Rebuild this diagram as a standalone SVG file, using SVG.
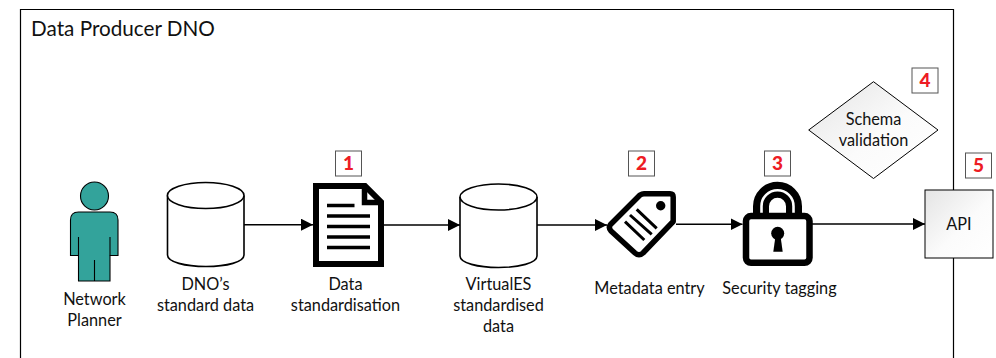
<svg xmlns="http://www.w3.org/2000/svg" width="996" height="358" viewBox="0 0 996 358">
<defs>
<marker id="arrow" markerUnits="userSpaceOnUse" markerWidth="13" markerHeight="12" refX="12" refY="6" orient="auto"><path d="M0 0L12 6L0 12Z" fill="#000"/></marker>
<linearGradient id="g" x1="0" y1="0" x2="1" y2="1"><stop offset="0" stop-color="#e4e4e4"/><stop offset="0.55" stop-color="#fbfbfb"/><stop offset="1" stop-color="#fff"/></linearGradient>
</defs>
<style>
text{font-family:"Lato","Open Sans",sans-serif;font-size:16.300px;fill:#111;text-anchor:middle}
.badge rect{fill:#fff;stroke:#555;stroke-width:1}
.badge text{font-family:"Lato","Open Sans",sans-serif;font-weight:900;font-size:19px;fill:#ed1c24}
.conn{fill:none;stroke:#000;stroke-width:1.6;marker-end:url(#arrow)}
.cyl{fill:#fff;stroke:#000;stroke-width:1.6}
.person{fill:#33a39b;stroke:#000;stroke-width:1.1}
</style>
<rect width="996" height="358" fill="#fff"/>
<path id="frame" d="M20.500 358V9.500H953.500V358" fill="none" stroke="#000" stroke-width="1.200"/>
<text id="title" x="123" y="36" style="font-size:20.700px">Data Producer DNO</text>
<g id="connectors">
<path class="conn" d="M244 224.700H313"/>
<path class="conn" d="M384 225H460"/>
<path class="conn" d="M537 225H607"/>
<path class="conn" d="M676 224.200H742.500"/>
<path class="conn" d="M812 224H925"/>
</g>
<g id="planner">
<circle class="person" cx="94.500" cy="196" r="14"/>
<path class="person" d="M78.500 212H110Q118 212 118 220V255.500H110V281H78.500V255.500H70.500V220Q70.500 212 78.500 212Z"/>
<path d="M78.500 237V255.500M110 237V255.500M94.500 260V281" fill="none" stroke="#000" stroke-width="1.100"/>
<text x="94.500" y="305">Network</text><text x="94.500" y="326">Planner</text>
</g>
<g id="dno-data">
<path class="cyl" d="M167.500 195.500V255C167.500 262 185 266.500 206 266.500S244 262 244 255V195.500"/>
<ellipse class="cyl" cx="205.700" cy="195.500" rx="38.300" ry="13"/>
<text x="205.500" y="290">DNO’s</text><text x="205.500" y="311">standard data</text>
</g>
<g id="standardisation">
<path d="M316 186H365L381 202V264H316Z" fill="#fff" stroke="#000" stroke-width="6"/>
<path d="M364.500 187V202.500H381" fill="none" stroke="#000" stroke-width="5.500"/>
<path d="M327 205.500H354.500M327 216H370M327 226.500H370M327 237H370M327 247.500H370" stroke="#000" stroke-width="3.500" fill="none"/>
<text x="345.500" y="290">Data</text><text x="345.500" y="311">standardisation</text>
</g>
<g id="virtuales-data">
<path class="cyl" d="M460 197V256C460 263 478 267.500 498.500 267.500S537 263 537 256V197"/>
<ellipse class="cyl" cx="498.500" cy="197" rx="38.500" ry="13"/>
<text x="498.500" y="290">VirtualES</text><text x="498.500" y="311">standardised</text><text x="498.500" y="332">data</text>
</g>
<g id="metadata">
<path d="M610.500 224.500L640 195Q642 193.700 644 193.700H670Q673.200 193.700 673.200 197V221.500L643 253Q639 256.500 635 253L611 231Q608 227.500 610.500 224.500Z" fill="#fff" stroke="#000" stroke-width="5.500" stroke-linejoin="round"/>
<circle cx="660.700" cy="205.700" r="4.700" fill="#000"/>
<path d="M636.700 209.300L656.700 228.300M630 215L651.700 234.300M625 221.700L644.300 240" stroke="#000" stroke-width="3" fill="none"/>
<text x="649.500" y="294">Metadata entry</text>
</g>
<g id="security">
<path d="M761 216V206.200A16.500 16.500 0 0 1 794 206.200V216" fill="none" stroke="#000" stroke-width="16"/>
<path d="M761.500 216V206.200A16 16 0 0 1 793.500 206.200V216" fill="none" stroke="#fff" stroke-width="2.600"/>
<rect x="746" y="216" width="63.500" height="46.800" rx="5" fill="#fff" stroke="#000" stroke-width="6.500"/>
<circle cx="777.700" cy="233.300" r="6.500" fill="#000"/>
<path d="M775.500 236H780.500L782.700 251.700H773.300Z" fill="#000"/>
<text x="779.500" y="294">Security tagging</text>
</g>
<g id="schema">
<path d="M873.500 81.700L938 130L873.500 178.500L808.700 130Z" fill="url(#g)" stroke="#000" stroke-width="1"/>
<text x="873.500" y="125">Schema</text><text x="873.500" y="146">validation</text>
</g>
<g id="api">
<rect x="925" y="190" width="68" height="68" fill="url(#g)" stroke="#000" stroke-width="1"/>
<text x="959" y="230">API</text>
</g>
<g class="badge" id="badge1"><rect x="335.500" y="151" width="26" height="25"/><text x="348.500" y="170">1</text></g>
<g class="badge" id="badge2"><rect x="628.500" y="151" width="26" height="25"/><text x="641.500" y="170">2</text></g>
<g class="badge" id="badge3"><rect x="764.500" y="151" width="26" height="25"/><text x="777.500" y="170">3</text></g>
<g class="badge" id="badge4"><rect x="912" y="68" width="26" height="25"/><text x="925" y="87">4</text></g>
<g class="badge" id="badge5"><rect x="965.500" y="153" width="26" height="25"/><text x="978.500" y="172">5</text></g>
</svg>
